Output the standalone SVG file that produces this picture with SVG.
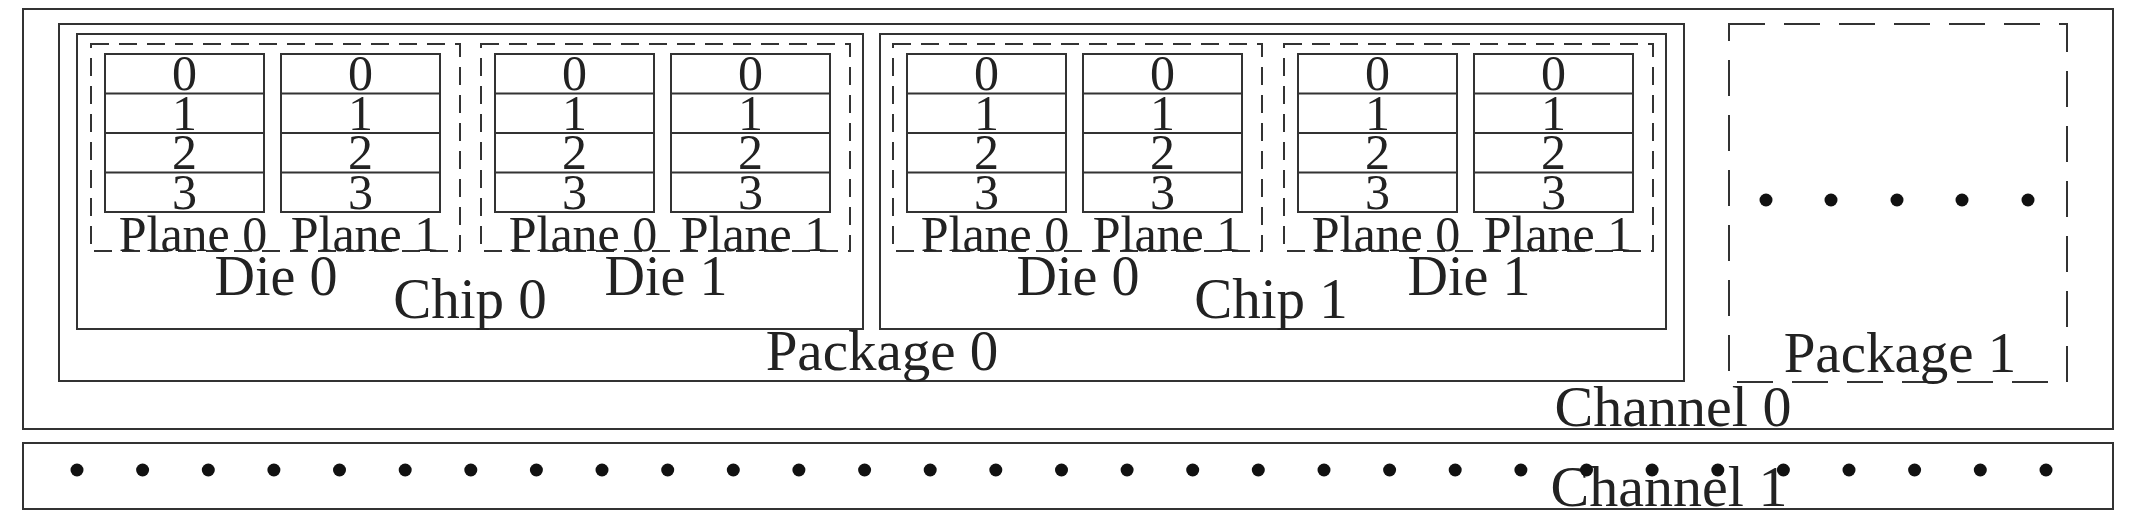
<svg xmlns="http://www.w3.org/2000/svg" width="2130" height="524" viewBox="0 0 2130 524">
<style>
.box{fill:none;stroke:#333;stroke-width:2}
.dbox{fill:none;stroke:#333;stroke-width:2;stroke-dasharray:18 10}
.pbox{fill:none;stroke:#333;stroke-width:2;stroke-dasharray:36 19}
.ln{stroke:#333;stroke-width:2}
text{font-family:"Liberation Serif","Times New Roman",serif;fill:#222;text-anchor:middle}
.dg{font-size:50px}
.pl{font-size:50px}
.die{font-size:56px}
.big{font-size:57px}
.ch{font-size:58px}
.dot{fill:#111}
</style>
<rect width="2130" height="524" fill="#fff"/>

<g id="channel0">
<rect class="box" x="23" y="9" width="2090" height="420"/>
<text class="ch" x="1673" y="426">Channel 0</text>
</g>

<g id="package0">
<rect class="box" x="59" y="24" width="1625" height="357"/>
<text class="big" x="882" y="370">Package 0</text>
</g>

<g id="chip0">
<rect class="box" x="77" y="34" width="786" height="295"/>
<text class="big" x="470" y="318">Chip 0</text>
</g>

<g id="chip1">
<rect class="box" x="880" y="34" width="786" height="295"/>
<text class="big" x="1271" y="318">Chip 1</text>
</g>

<g id="chip0-die0">
<rect class="dbox" x="91" y="44" width="369" height="207"/>
<g id="chip0-die0-plane0">
<rect class="box" x="105" y="54" width="159" height="158"/>
<line class="ln" x1="105" y1="93.5" x2="264" y2="93.5"/><line class="ln" x1="105" y1="133" x2="264" y2="133"/><line class="ln" x1="105" y1="172.5" x2="264" y2="172.5"/>
<text class="dg" x="184.5" y="90">0</text><text class="dg" x="184.5" y="129.5">1</text><text class="dg" x="184.5" y="169">2</text><text class="dg" x="184.5" y="208.5">3</text>
<text class="pl" x="193" y="251">Plane 0</text>
</g>
<g id="chip0-die0-plane1">
<rect class="box" x="281" y="54" width="159" height="158"/>
<line class="ln" x1="281" y1="93.5" x2="440" y2="93.5"/><line class="ln" x1="281" y1="133" x2="440" y2="133"/><line class="ln" x1="281" y1="172.5" x2="440" y2="172.5"/>
<text class="dg" x="360.5" y="90">0</text><text class="dg" x="360.5" y="129.5">1</text><text class="dg" x="360.5" y="169">2</text><text class="dg" x="360.5" y="208.5">3</text>
<text class="pl" x="365" y="251">Plane 1</text>
</g>
<text class="die" x="276" y="295">Die 0</text>
</g>

<g id="chip0-die1">
<rect class="dbox" x="481" y="44" width="369" height="207"/>
<g id="chip0-die1-plane0">
<rect class="box" x="495" y="54" width="159" height="158"/>
<line class="ln" x1="495" y1="93.5" x2="654" y2="93.5"/><line class="ln" x1="495" y1="133" x2="654" y2="133"/><line class="ln" x1="495" y1="172.5" x2="654" y2="172.5"/>
<text class="dg" x="574.5" y="90">0</text><text class="dg" x="574.5" y="129.5">1</text><text class="dg" x="574.5" y="169">2</text><text class="dg" x="574.5" y="208.5">3</text>
<text class="pl" x="583" y="251">Plane 0</text>
</g>
<g id="chip0-die1-plane1">
<rect class="box" x="671" y="54" width="159" height="158"/>
<line class="ln" x1="671" y1="93.5" x2="830" y2="93.5"/><line class="ln" x1="671" y1="133" x2="830" y2="133"/><line class="ln" x1="671" y1="172.5" x2="830" y2="172.5"/>
<text class="dg" x="750.5" y="90">0</text><text class="dg" x="750.5" y="129.5">1</text><text class="dg" x="750.5" y="169">2</text><text class="dg" x="750.5" y="208.5">3</text>
<text class="pl" x="755" y="251">Plane 1</text>
</g>
<text class="die" x="666" y="295">Die 1</text>
</g>

<g id="chip1-die0">
<rect class="dbox" x="893" y="44" width="369" height="207"/>
<g id="chip1-die0-plane0">
<rect class="box" x="907" y="54" width="159" height="158"/>
<line class="ln" x1="907" y1="93.5" x2="1066" y2="93.5"/><line class="ln" x1="907" y1="133" x2="1066" y2="133"/><line class="ln" x1="907" y1="172.5" x2="1066" y2="172.5"/>
<text class="dg" x="986.5" y="90">0</text><text class="dg" x="986.5" y="129.5">1</text><text class="dg" x="986.5" y="169">2</text><text class="dg" x="986.5" y="208.5">3</text>
<text class="pl" x="995" y="251">Plane 0</text>
</g>
<g id="chip1-die0-plane1">
<rect class="box" x="1083" y="54" width="159" height="158"/>
<line class="ln" x1="1083" y1="93.5" x2="1242" y2="93.5"/><line class="ln" x1="1083" y1="133" x2="1242" y2="133"/><line class="ln" x1="1083" y1="172.5" x2="1242" y2="172.5"/>
<text class="dg" x="1162.5" y="90">0</text><text class="dg" x="1162.5" y="129.5">1</text><text class="dg" x="1162.5" y="169">2</text><text class="dg" x="1162.5" y="208.5">3</text>
<text class="pl" x="1167" y="251">Plane 1</text>
</g>
<text class="die" x="1078" y="295">Die 0</text>
</g>

<g id="chip1-die1">
<rect class="dbox" x="1284" y="44" width="369" height="207"/>
<g id="chip1-die1-plane0">
<rect class="box" x="1298" y="54" width="159" height="158"/>
<line class="ln" x1="1298" y1="93.5" x2="1457" y2="93.5"/><line class="ln" x1="1298" y1="133" x2="1457" y2="133"/><line class="ln" x1="1298" y1="172.5" x2="1457" y2="172.5"/>
<text class="dg" x="1377.5" y="90">0</text><text class="dg" x="1377.5" y="129.5">1</text><text class="dg" x="1377.5" y="169">2</text><text class="dg" x="1377.5" y="208.5">3</text>
<text class="pl" x="1386" y="251">Plane 0</text>
</g>
<g id="chip1-die1-plane1">
<rect class="box" x="1474" y="54" width="159" height="158"/>
<line class="ln" x1="1474" y1="93.5" x2="1633" y2="93.5"/><line class="ln" x1="1474" y1="133" x2="1633" y2="133"/><line class="ln" x1="1474" y1="172.5" x2="1633" y2="172.5"/>
<text class="dg" x="1553.5" y="90">0</text><text class="dg" x="1553.5" y="129.5">1</text><text class="dg" x="1553.5" y="169">2</text><text class="dg" x="1553.5" y="208.5">3</text>
<text class="pl" x="1558" y="251">Plane 1</text>
</g>
<text class="die" x="1469" y="295">Die 1</text>
</g>

<g id="package1">
<rect class="pbox" x="1729" y="24" width="338" height="358"/>
<circle class="dot" cx="1766" cy="200" r="6.5"/>
<circle class="dot" cx="1831" cy="200" r="6.5"/>
<circle class="dot" cx="1897" cy="200" r="6.5"/>
<circle class="dot" cx="1962" cy="200" r="6.5"/>
<circle class="dot" cx="2028" cy="200" r="6.5"/>
<text class="big" x="1900" y="372">Package 1</text>
</g>

<g id="channel1">
<rect class="box" x="23" y="443" width="2090" height="66"/>
<text class="ch" x="1669" y="506">Channel 1</text>
<g class="dot">
<circle cx="77" cy="470" r="6.5"/><circle cx="142.6" cy="470" r="6.5"/><circle cx="208.3" cy="470" r="6.5"/><circle cx="273.9" cy="470" r="6.5"/><circle cx="339.5" cy="470" r="6.5"/><circle cx="405.2" cy="470" r="6.5"/><circle cx="470.8" cy="470" r="6.5"/><circle cx="536.4" cy="470" r="6.5"/><circle cx="602" cy="470" r="6.5"/><circle cx="667.7" cy="470" r="6.5"/><circle cx="733.3" cy="470" r="6.5"/><circle cx="798.9" cy="470" r="6.5"/><circle cx="864.6" cy="470" r="6.5"/><circle cx="930.2" cy="470" r="6.5"/><circle cx="995.8" cy="470" r="6.5"/><circle cx="1061.5" cy="470" r="6.5"/><circle cx="1127.1" cy="470" r="6.5"/><circle cx="1192.7" cy="470" r="6.5"/><circle cx="1258.3" cy="470" r="6.5"/><circle cx="1324" cy="470" r="6.5"/><circle cx="1389.6" cy="470" r="6.5"/><circle cx="1455.2" cy="470" r="6.5"/><circle cx="1520.9" cy="470" r="6.5"/><circle cx="1586.5" cy="470" r="6.5"/><circle cx="1652.1" cy="470" r="6.5"/><circle cx="1717.8" cy="470" r="6.5"/><circle cx="1783.4" cy="470" r="6.5"/><circle cx="1849" cy="470" r="6.5"/><circle cx="1914.6" cy="470" r="6.5"/><circle cx="1980.3" cy="470" r="6.5"/><circle cx="2046" cy="470" r="6.5"/>
</g>
</g>
</svg>
